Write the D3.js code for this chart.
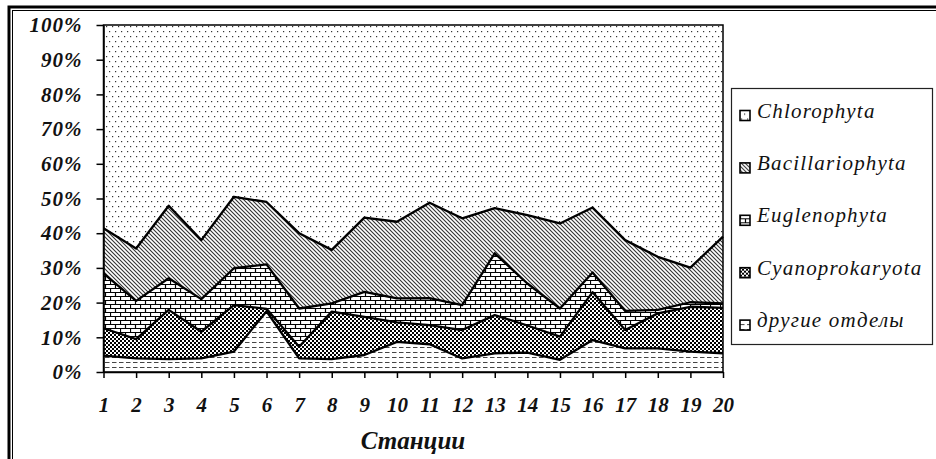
<!DOCTYPE html>
<html lang="ru">
<head>
<meta charset="UTF-8">
<title>Станции</title>
<script src="https://cdn.jsdelivr.net/npm/d3@7/dist/d3.min.js"></script>
<style>
    body { margin: 0; background: #fff; }
    svg text { font-family: "Liberation Serif", "Times New Roman", serif; fill: #111; }
</style>
</head>
<body>
<script>
    const width = 936;
    const height = 459;

    // данные, % по станциям
    const stations = ['1', '2', '3', '4', '5', '6', '7', '8', '9', '10',
        '11', '12', '13', '14', '15', '16', '17', '18', '19', '20'];
    const series = ['другие отделы', 'Cyanoprokaryota', 'Euglenophyta', 'Bacillariophyta', 'Chlorophyta'];
    const others = [4.7, 3.9, 3.7, 3.9, 5.9, 17.5, 3.9, 3.7, 4.9, 8.7, 8.0, 3.9, 5.4, 5.6, 3.5, 9.2, 6.8, 6.8, 5.9, 5.4];
    const cyano = [7.9, 5.6, 14.2, 7.7, 13.4, 0.7, 3.4, 13.7, 11.0, 5.6, 5.5, 8.2, 11.0, 7.8, 6.7, 13.8, 5.3, 10.1, 12.9, 13.1];
    const eugleno = [15.8, 11.0, 9.1, 9.4, 10.6, 12.8, 11.0, 2.4, 7.2, 6.9, 7.8, 7.2, 17.8, 12.1, 8.1, 5.7, 5.5, 1.0, 1.3, 1.3];
    const bacill = [13.0, 15.1, 20.9, 17.0, 20.6, 18.0, 21.7, 15.4, 21.4, 22.1, 27.5, 25.0, 13.0, 19.7, 24.5, 18.7, 20.4, 15.3, 10.0, 19.2];
    const chloro = [58.6, 64.4, 52.1, 62.0, 49.5, 51.0, 60.0, 64.8, 55.5, 56.7, 51.2, 55.7, 52.8, 54.8, 57.2, 52.6, 62.0, 66.8, 69.9, 61.0];
    const yTicks = [0, 0.1, 0.2, 0.3, 0.4, 0.5, 0.6, 0.7, 0.8, 0.9, 1];

    const values = [others, cyano, eugleno, bacill, chloro];
    const rows = stations.map((s, i) => {
        const r = {station: s};
        series.forEach((k, j) => r[k] = values[j][i]);
        return r;
    });

    const svg = d3.select('body')
        .append('svg')
        .attr('width', width)
        .attr('height', height)
        .attr('font-family', '"Liberation Serif", serif');

    // штриховки
    const defs = svg.append('defs');
    const pat = (id, w, h) => {
        const p = defs.append('pattern')
            .attr('id', id)
            .attr('patternUnits', 'userSpaceOnUse')
            .attr('width', w)
            .attr('height', h);
        p.append('rect').attr('width', w).attr('height', h).attr('fill', '#fff');
        return p;
    };

    const pDots = pat('p-dots', 6, 10);
    pDots.append('rect').attr('x', 1).attr('y', 1).attr('width', 1.2).attr('height', 1.2).attr('fill', '#333');
    pDots.append('rect').attr('x', 4).attr('y', 6).attr('width', 1.2).attr('height', 1.2).attr('fill', '#333');

    const pDiag = pat('p-diag', 4, 4);
    pDiag.append('path')
        .attr('d', 'M-1,-1L5,5M3,-1L5,1M-1,3L1,5')
        .attr('stroke', '#333')
        .attr('stroke-width', 1.1);

    const pBrick = pat('p-brick', 10, 8);
    pBrick.append('path')
        .attr('d', 'M0,0.5H10M0,4.5H10M0.5,0.5V4.5M5.5,4.5V8')
        .attr('stroke', '#000')
        .attr('stroke-width', 1.2);

    const pCheck = pat('p-check', 4, 4);
    pCheck.append('rect').attr('width', 2).attr('height', 2).attr('fill', '#000');
    pCheck.append('rect').attr('x', 2).attr('y', 2).attr('width', 2).attr('height', 2).attr('fill', '#000');

    const pDash = pat('p-dash', 7, 5);
    pDash.append('path')
        .attr('d', 'M0,2.5H4.5')
        .attr('stroke', '#444')
        .attr('stroke-width', 1);

    const fills = ['url(#p-dash)', 'url(#p-check)', 'url(#p-brick)', 'url(#p-diag)', 'url(#p-dots)'];

    // рамка
    svg.append('rect')
        .attr('x', 9).attr('y', 7)
        .attr('width', width + 20).attr('height', height + 20)
        .attr('fill', 'none').attr('stroke', '#000').attr('stroke-width', 3);
    svg.append('rect')
        .attr('x', 12.5).attr('y', 10.5)
        .attr('width', width + 20).attr('height', height + 20)
        .attr('fill', 'none').attr('stroke', '#000').attr('stroke-width', 1);

    const x = d3.scalePoint()
        .domain(stations)
        .range([103.5, 723]);

    const y = d3.scaleLinear()
        .domain([0, 1])
        .range([372, 25]);

    const stack = d3.stack()
        .keys(series)
        .offset(d3.stackOffsetExpand);
    const layers = stack(rows);

    const area = d3.area()
        .x(d => x(d.data.station))
        .y0(d => y(d[0]))
        .y1(d => y(d[1]));

    const line = d3.line()
        .x(d => x(d.data.station))
        .y(d => y(d[1]));

    svg.append('g')
        .selectAll('path')
        .data(layers)
        .enter()
        .append('path')
        .attr('fill', (d, i) => fills[i])
        .attr('d', area);

    svg.append('g')
        .selectAll('path')
        .data(layers.slice(0, 4))
        .enter()
        .append('path')
        .attr('fill', 'none')
        .attr('stroke', '#000')
        .attr('stroke-width', 2.3)
        .attr('stroke-linejoin', 'round')
        .attr('d', line);

    // рамка области построения
    svg.append('rect')
        .attr('x', 103.5).attr('y', 25)
        .attr('width', 723 - 103.5).attr('height', 372 - 25)
        .attr('fill', 'none')
        .attr('stroke', '#000')
        .attr('stroke-width', 1.5);

    // оси
    const yAxis = svg.append('g')
        .attr('transform', 'translate(103.5,0)')
        .call(d3.axisLeft(y)
            .tickValues(yTicks)
            .tickFormat(d3.format('.0%'))
            .tickSize(7)
            .tickSizeOuter(0)
            .tickPadding(14));
    yAxis.attr('font-family', '"Liberation Serif", serif');
    yAxis.selectAll('text')
        .style('font-family', '"Liberation Serif", serif')
        .style('font-size', '21px')
        .style('font-weight', 'bold')
        .style('font-style', 'italic')
        .style('letter-spacing', '1px')
        .attr('fill', '#111');

    const xAxis = svg.append('g')
        .attr('transform', 'translate(0,372)')
        .call(d3.axisBottom(x)
            .tickSize(6)
            .tickSizeOuter(0));
    xAxis.attr('font-family', '"Liberation Serif", serif');
    xAxis.selectAll('text')
        .attr('y', 40)
        .attr('dy', 0)
        .style('font-family', '"Liberation Serif", serif')
        .style('font-size', '21px')
        .style('font-weight', 'bold')
        .style('font-style', 'italic')
        .attr('fill', '#111');
    svg.selectAll('.domain, .tick line')
        .attr('stroke', '#000')
        .attr('stroke-width', 1.5);

    svg.append('text')
        .attr('x', 413)
        .attr('y', 449)
        .attr('text-anchor', 'middle')
        .style('font-size', '25px')
        .style('font-weight', 'bold')
        .style('font-style', 'italic')
        .text('Станции');

    // легенда
    svg.append('rect')
        .attr('x', 731.5).attr('y', 88.5)
        .attr('width', 201).attr('height', 256)
        .attr('fill', '#fff')
        .attr('stroke', '#222')
        .attr('stroke-width', 1.2);

    const legendOrder = series.slice().reverse();
    const legend = svg.append('g')
        .selectAll('g')
        .data(legendOrder)
        .enter()
        .append('g')
        .attr('transform', (d, i) => `translate(740,${117.5 + i * 52.4})`);

    legend.append('rect')
        .attr('x', 0).attr('y', -7)
        .attr('width', 10).attr('height', 10)
        .attr('fill', d => fills[series.indexOf(d)])
        .attr('stroke', '#000')
        .attr('stroke-width', 1.6);

    legend.append('text')
        .attr('x', 17)
        .attr('y', 0)
        .style('font-size', '21px')
        .style('font-style', 'italic')
        .style('letter-spacing', '1.2px')
        .text(d => d);
</script>
</body>
</html>
